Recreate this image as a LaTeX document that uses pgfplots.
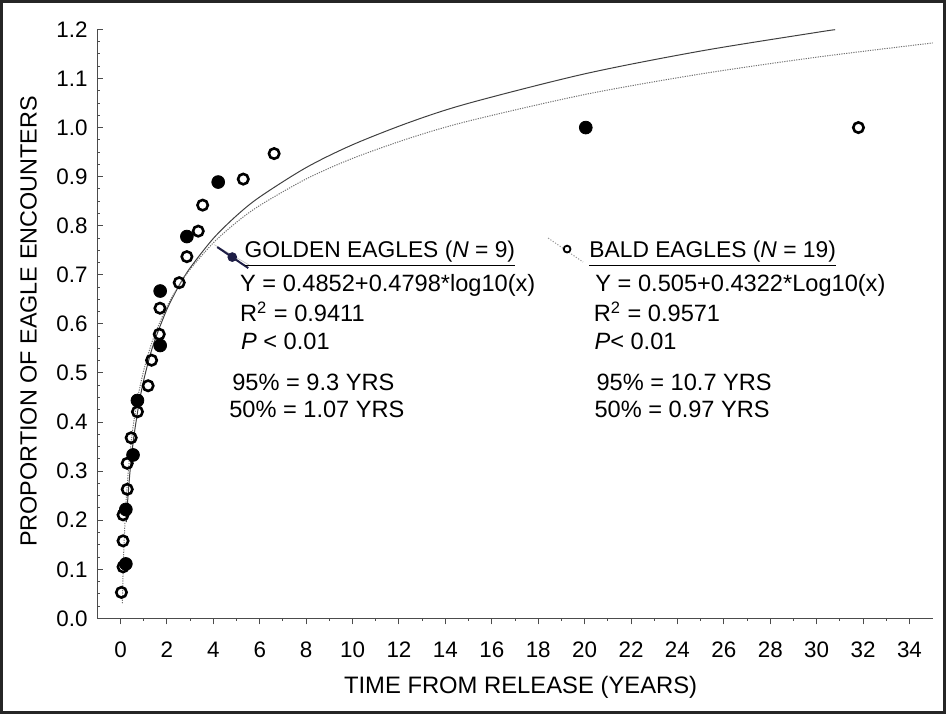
\documentclass[border=0pt]{standalone}
\usepackage{pgfplots}
\pgfplotsset{compat=1.18}
\usepackage{pgfplotstable}
\usepackage{fontspec}
\setmainfont{Liberation Sans}
\definecolor{navyline}{RGB}{30,30,70}

\pgfplotstableread{
x y
0.23 0.111
0.23 0.222
0.54 0.333
0.73 0.444
1.71 0.556
1.71 0.667
2.86 0.778
4.21 0.889
20.05 1.000
}\golden

\pgfplotstableread{
x y
0.04 0.053
0.11 0.105
0.11 0.158
0.11 0.211
0.29 0.263
0.29 0.316
0.46 0.368
0.73 0.421
1.19 0.474
1.34 0.526
1.67 0.579
1.70 0.632
2.53 0.684
2.86 0.737
3.35 0.789
3.54 0.842
5.29 0.895
6.62 0.947
31.8 1.000
}\bald

% fitted curve Y = 0.4852 + 0.4798 log10(x)
\pgfplotstableread{
x y
0.25 0.1963
0.3 0.2343
0.4 0.2943
0.5 0.3408
0.6 0.3788
0.8 0.4387
1 0.4852
1.25 0.5317
1.5 0.5697
2 0.6296
2.5 0.6761
3 0.7141
4 0.7741
5 0.8206
6 0.8586
8 0.9185
10 0.9650
12.5 1.0115
15 1.0495
20 1.1094
25 1.1559
30 1.1939
30.8 1.1994
}\goldenfit

% fitted curve Y = 0.505 + 0.4322 log10(x)
\pgfplotstableread{
x y
0.08 0.0309
0.1 0.0728
0.12 0.1070
0.15 0.1489
0.2 0.2029
0.25 0.2448
0.3 0.2790
0.4 0.3330
0.5 0.3749
0.6 0.4091
0.8 0.4631
1 0.5050
1.25 0.5469
1.5 0.5811
2 0.6351
2.5 0.6770
3 0.7112
4 0.7652
5 0.8071
6 0.8413
8 0.8953
10 0.9372
12.5 0.9791
15 1.0133
20 1.0673
25 1.1092
30 1.1434
35 1.1724
}\baldfit

\begin{document}
\begin{tikzpicture}
\useasboundingbox (0,0) rectangle (473pt,357pt);
\begin{axis}[
  at={(48.65pt,47.8pt)}, anchor=south west,
  scale only axis, width=417.7pt, height=294.5pt,
  xmin=-1, xmax=35, ymin=0, ymax=1.2,
  axis x line=bottom, axis y line=left,
  axis line style={-, draw=black!70, line width=0.6pt},
  xtick={0,2,...,34}, minor xtick={1,3,...,33},
  ytick={0,0.1,0.2,0.3,0.4,0.5,0.6,0.7,0.8,0.9,1.0,1.1,1.2},
  minor y tick num=3,
  xtick align=outside, ytick align=inside,
  major tick length=3pt, minor tick length=1.2pt,
  every tick/.style={draw=black!70, line width=0.5pt},
  tick label style={font=\fontsize{11.2}{12}\selectfont, /pgf/number format/assume math mode=true},
  yticklabel style={/pgf/number format/.cd, fixed, fixed zerofill, precision=1, /tikz/.cd, xshift=-1.3pt},
  xticklabel style={yshift=-5.3pt},
  xlabel={TIME FROM RELEASE (YEARS)},
  xlabel style={font=\fontsize{11.9}{13}\selectfont, at={(axis description cs:0.5067,-0.1267)}, anchor=base},
  ylabel={PROPORTION OF EAGLE ENCOUNTERS},
  ylabel style={font=\fontsize{11.7}{13}\selectfont, at={(axis description cs:-0.0725,0.504)}, anchor=base, rotate=0},
  clip=true,
  legend columns=2,
  legend style={draw=none, fill=none, at={(axis cs:4.153,0.7492)}, anchor=west,
    font=\fontsize{11.4}{13}\selectfont, inner sep=0pt,
    /tikz/every even column/.append style={column sep=21.15pt}},
  legend cell align=left,
]
\addlegendimage{legend image code/.code={
  \draw[overlay, black!25, line width=0.3pt] (-1.5pt,3pt) -- (16.5pt,-7.5pt);
  \draw[overlay, navyline, line width=1pt] (0pt,1.8pt) -- (15.5pt,-8.7pt);
  \fill[overlay, navyline] (7.5pt,-3.2pt) circle (2.2pt);
  \path[draw=none, fill=none] (0pt,-1pt) rectangle (11.65pt,1pt);}}
\addlegendentry{\underline{GOLDEN EAGLES (\textit{N} = 9)}}
\addlegendimage{legend image code/.code={
  \draw[overlay, black!40, line width=0.5pt, dash pattern=on 0.6pt off 0.8pt] (-6.65pt,6.3pt) -- (10.85pt,-5.7pt);
  \draw[overlay, black, fill=white, line width=0.9pt] (2.85pt,0.8pt) circle (1.7pt);
  \path[draw=none, fill=none] (0pt,-1pt) rectangle (12pt,1pt);}}
\addlegendentry{\underline{BALD EAGLES (\textit{N} = 19)}}

\addplot[forget plot, only marks, mark=*, mark size=3.2pt, mark options={fill=black, draw=black}] table {\golden};
\addplot[forget plot, only marks, mark=o, mark size=2.6pt, mark options={draw=black, fill=white, line width=1.3pt}] table {\bald};
\addplot[forget plot, black!75, line width=0.5pt, smooth] table {\goldenfit};
\addplot[forget plot, black!55, line width=0.5pt, dash pattern=on 0.6pt off 0.6pt, smooth] table {\baldfit};

\begin{scope}[font=\fontsize{11.8}{14}\selectfont]
\node[anchor=base west, inner sep=0pt] at (axis cs:5.14,0.6655) {Y = 0.4852+0.4798*log10(x)};
\node[anchor=base west, inner sep=0pt] at (axis cs:5.14,0.6044) {R\textsuperscript{2} = 0.9411};
\node[anchor=base west, inner sep=0pt] at (axis cs:5.18,0.5482) {\textit{P} < 0.01};
\node[anchor=base west, inner sep=0pt] at (axis cs:4.80,0.4653) {95\% = 9.3 YRS};
\node[anchor=base west, inner sep=0pt] at (axis cs:4.67,0.4103) {50\% = 1.07 YRS};
\node[anchor=base west, inner sep=0pt] at (axis cs:20.45,0.6655) {Y = 0.505+0.4322*Log10(x)};
\node[anchor=base west, inner sep=0pt] at (axis cs:20.38,0.6044) {R\textsuperscript{2} = 0.9571};
\node[anchor=base west, inner sep=0pt] at (axis cs:20.41,0.5482) {\textit{P}< 0.01};
\node[anchor=base west, inner sep=0pt] at (axis cs:20.50,0.4653) {95\% = 10.7 YRS};
\node[anchor=base west, inner sep=0pt] at (axis cs:20.41,0.4103) {50\% = 0.97 YRS};
\end{scope}
\end{axis}
\draw[black!85, line width=1.5pt] (0.75pt,0.75pt) rectangle (472.25pt,356.25pt);
\end{tikzpicture}
\end{document}
